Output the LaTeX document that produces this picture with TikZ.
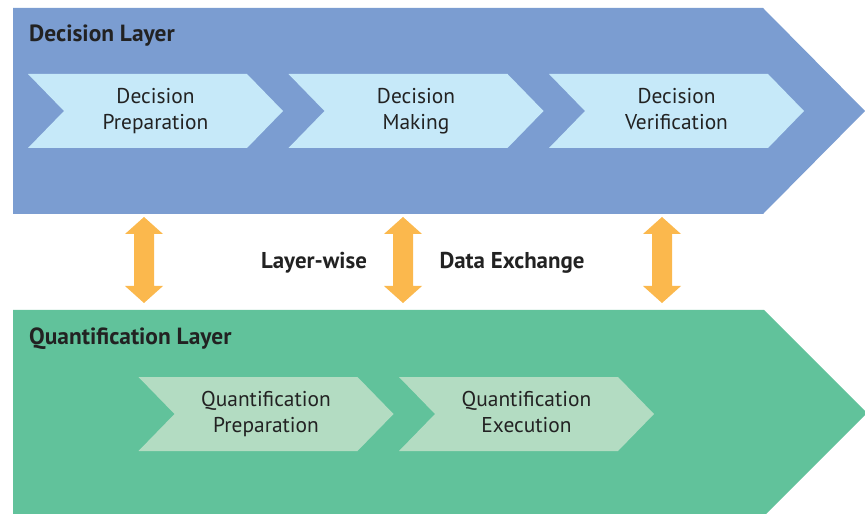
\documentclass[tikz,border=0pt]{standalone}
\usepackage{fontspec}
\setmainfont{PT Sans}
\definecolor{blayer}{HTML}{7B9DD1}
\definecolor{bstep}{HTML}{C6E9F9}
\definecolor{glayer}{HTML}{61C29B}
\definecolor{gstep}{HTML}{B3DCC2}
\definecolor{xarrow}{HTML}{FBB84D}
\definecolor{ink}{HTML}{222222}
\newcommand{\lstrut}{\vphantom{Qpy}}
\tikzset{
  title/.style={anchor=base west, inner sep=0pt, text=ink, font=\fontsize{23.5}{26}\selectfont\bfseries},
  midtext/.style={anchor=base, inner sep=0pt, text=ink, font=\fontsize{23}{26}\selectfont\bfseries},
  lbl/.style={align=center, inner sep=0pt, text=ink, font=\fontsize{21.5}{26}\selectfont},
  pics/chev/.style={code={
    \fill[#1] (-127.5,-37) -- (91.5,-37) -- (127.5,0) -- (91.5,37) -- (-127.5,37) -- (-91.5,0) -- cycle;}},
  pics/dblarrow/.style={code={
    \fill[xarrow] (0,-43) -- (19,-26) -- (10,-26) -- (10,26) -- (19,26) -- (0,43)
      -- (-19,26) -- (-10,26) -- (-10,-26) -- (-19,-26) -- cycle;}}
}
\begin{document}
\begin{tikzpicture}[x=1bp,y=-1bp]
\useasboundingbox (0,0) rectangle (865,514);
% layers
\fill[blayer] (13,8) -- (763,8) -- (865,111) -- (763,214) -- (13,214) -- cycle;
\fill[glayer] (13,310) -- (764,310) -- (867,413) -- (764,516) -- (13,516) -- cycle;
\node[title] (dl) at (29,42) {Decision Layer};
\node[title] (ql) at (29,345) {Quantification Layer};
% decision steps
\pic at (155.5,111) {chev=bstep};
\pic at (416,111) {chev=bstep};
\pic at (676.5,111) {chev=bstep};
\node[lbl] (dp) at (155.5,111.5) {Decision\lstrut\\Preparation\lstrut};
\node[lbl] (dm) at (416,111.5) {Decision\lstrut\\Making\lstrut};
\node[lbl] (dv) at (676.5,111.5) {Decision\lstrut\\Verification\lstrut};
% quantification steps
\pic at (266,414) {chev=gstep};
\pic at (526.5,414) {chev=gstep};
\node[lbl] (qp) at (266,414.5) {Quantification\lstrut\\Preparation\lstrut};
\node[lbl] (qe) at (526.5,414.5) {Quantification\lstrut\\Execution\lstrut};
% exchange arrows
\pic at (144,260) {dblarrow};
\pic at (403,260) {dblarrow};
\pic at (662,260) {dblarrow};
\node[midtext] (lw) at (314,269) {Layer-wise};
\node[midtext] (de) at (512,269) {Data Exchange};
\end{tikzpicture}
\end{document}
